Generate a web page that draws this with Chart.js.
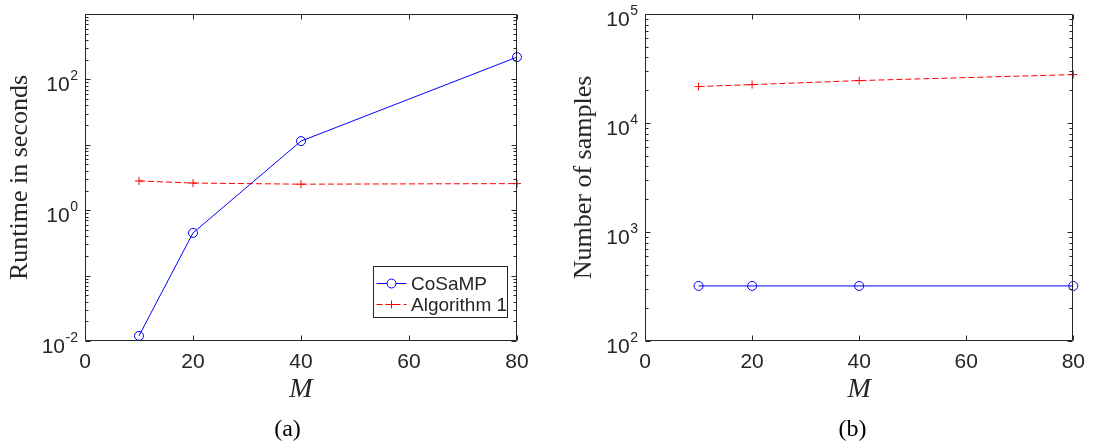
<!DOCTYPE html>
<html><head><meta charset="utf-8">
<script src="https://cdn.jsdelivr.net/npm/chart.js@4/dist/chart.umd.min.js"></script>
<style>
html,body{margin:0;padding:0;background:#fff;overflow:hidden;}
#wrap{position:relative;width:1094px;height:445px;}
.c{position:absolute;top:0;width:547px;height:445px;}
</style></head><body>
<div id="wrap">
<div class="c" style="left:0"><canvas id="ca"></canvas></div>
<div class="c" style="left:547px"><canvas id="cb"></canvas></div>
</div>
<script>
// ---- data ----
const mValues = [10, 20, 40, 80];
const cosampRuntime = [0.012, 0.45, 11.4, 219];
const alg1Runtime = [2.8, 2.6, 2.5, 2.55];
const cosampSamples = [320, 320, 320, 320];
const alg1Samples = [21600, 22500, 24500, 27800];
const seriesNames = ['CoSaMP', 'Algorithm 1'];
const xTicks = [0, 20, 40, 60, 80];
const runtimeExponents = [-2, 0, 2];
const samplesExponents = [2, 3, 4, 5];
const captions = ['(a)', '(b)'];
const yTitles = ['Runtime in seconds', 'Number of samples'];
const xTitle = 'M';

const AX = '#262626';
const SANS = '"Liberation Sans", Arial, sans-serif';
const SERIF = '"Liberation Serif", "Times New Roman", serif';
Chart.defaults.font.family = SANS;
Chart.defaults.color = AX;

const pts = ys => mValues.map((m, i) => ({x: m, y: ys[i]}));

function datasets(blueVals, redVals) {
  return [
    {label: seriesNames[0], data: pts(blueVals), borderColor: '#0000ff', borderWidth: 1,
     pointStyle: 'circle', pointRadius: 4.5, pointBorderWidth: 1, pointBorderColor: '#0000ff',
     pointBackgroundColor: 'rgba(0,0,0,0)', tension: 0, clip: false},
    {label: seriesNames[1], data: pts(redVals), borderColor: '#ff0000', borderWidth: 1, borderDash: [6, 3],
     pointStyle: 'cross', pointRadius: 4, pointBorderWidth: 1, pointBorderColor: '#ff0000',
     pointBackgroundColor: '#ff0000', tension: 0, clip: false}
  ];
}

const matlabAxes = {
  id: 'matlabAxes',
  afterDraw(chart, args, opts) {
    const ctx = chart.ctx, a = chart.chartArea;
    const xs = chart.scales.x, ys = chart.scales.y;
    const L = Math.round(a.left) + 0.5, R = Math.round(a.right) - 0.5;
    const T = Math.round(a.top) + 0.5, B = Math.round(a.bottom) - 0.5;
    ctx.save();
    ctx.strokeStyle = AX; ctx.lineWidth = 1;
    ctx.beginPath();
    ctx.rect(L, T, R - L, B - T);
    xs.ticks.forEach(t => {
      const px = Math.round(xs.getPixelForValue(t.value)) + 0.5;
      ctx.moveTo(px, B); ctx.lineTo(px, B - 5);
      ctx.moveTo(px, T); ctx.lineTo(px, T + 5);
    });
    const lo = Math.floor(Math.log10(ys.min) + 1e-9), hi = Math.ceil(Math.log10(ys.max) - 1e-9);
    for (let e = lo; e <= hi; e++) for (let m = 1; m <= 9; m++) {
      const v = m * Math.pow(10, e);
      if (v < ys.min * 0.999 || v > ys.max * 1.001) continue;
      const len = m === 1 ? 5 : 3;
      const py = Math.round(ys.getPixelForValue(v)) + 0.5;
      ctx.moveTo(L, py); ctx.lineTo(L + len, py);
      ctx.moveTo(R, py); ctx.lineTo(R - len, py);
    }
    ctx.stroke();
    // y tick labels 10^k
    ctx.fillStyle = AX;
    ctx.textAlign = 'right'; ctx.textBaseline = 'alphabetic';
    opts.exps.forEach(e => {
      const py = ys.getPixelForValue(Math.pow(10, e));
      const es = String(e);
      ctx.font = '14px ' + SANS;
      const ew = ctx.measureText(es).width;
      ctx.fillText(es, a.left - 7, py + 1);
      ctx.font = '21px ' + SANS;
      ctx.fillText('10', a.left - 7 - ew - 0.5, py + 11.5);
    });
    // caption
    ctx.fillStyle = '#000';
    ctx.font = '24px ' + SERIF;
    ctx.textAlign = 'center'; ctx.textBaseline = 'middle';
    ctx.fillText(opts.caption, opts.captionX, 430);
    // legend
    if (opts.legend) {
      const w = 134, h = 51;
      const bx = a.right - 10 - w, by = a.bottom - 24 - h;
      ctx.fillStyle = '#fff';
      ctx.fillRect(bx, by, w, h);
      ctx.strokeStyle = AX; ctx.lineWidth = 1;
      ctx.strokeRect(Math.round(bx) + 0.5, Math.round(by) + 0.5, w, h);
      chart.data.datasets.forEach((ds, i) => {
        const yy = Math.round(by + 16.5 + i * 21) + 0.5;
        ctx.strokeStyle = ds.borderColor; ctx.lineWidth = ds.borderWidth;
        ctx.setLineDash(ds.borderDash || []);
        ctx.beginPath(); ctx.moveTo(bx + 3.5, yy); ctx.lineTo(bx + 33.5, yy); ctx.stroke();
        ctx.setLineDash([]);
        Chart.helpers.drawPoint(ctx, {pointStyle: ds.pointStyle, radius: ds.pointRadius, borderWidth: ds.pointBorderWidth, rotation: 0}, bx + 18.5, yy);
        ctx.fillStyle = AX; ctx.font = '19px ' + SANS;
        ctx.textAlign = 'left'; ctx.textBaseline = 'middle';
        ctx.fillText(ds.label, bx + 38, yy + 1);
      });
    }
    ctx.restore();
  }
};

function makeChart(id, ds, yMin, yMax, yTitle, yWidth, yTitlePad, rightPad, exps, caption, captionX, legend) {
  return new Chart(document.getElementById(id), {
    type: 'line',
    data: {datasets: ds},
    plugins: [matlabAxes],
    options: {
      responsive: true, maintainAspectRatio: false, animation: false,
      layout: {padding: {top: 14, right: rightPad, bottom: 0, left: 0}},
      plugins: {
        legend: {display: false}, tooltip: {enabled: false},
        matlabAxes: {exps: exps, caption: caption, captionX: captionX, legend: legend}
      },
      scales: {
        x: {
          type: 'linear', min: 0, max: 80,
          afterBuildTicks: s => { s.ticks = xTicks.map(v => ({value: v})); },
          afterFit: s => { s.height = 104; },
          grid: {display: false, drawTicks: false}, border: {display: false},
          ticks: {font: {size: 21, family: SANS}, color: AX, padding: 9, maxRotation: 0, autoSkip: false},
          title: {display: true, text: xTitle, color: AX, font: {family: SERIF, size: 28, style: 'italic'}, padding: {top: 0, bottom: 39}}
        },
        y: {
          type: 'logarithmic', min: yMin, max: yMax,
          afterFit: s => { s.width = yWidth; },
          grid: {display: false, drawTicks: false}, border: {display: false},
          ticks: {display: false},
          title: {display: true, text: yTitle, color: AX, font: {family: SERIF, size: 26}, padding: {top: yTitlePad, bottom: yTitlePad}}
        }
      }
    }
  });
}

makeChart('ca', datasets(cosampRuntime, alg1Runtime), 0.01, 1000, yTitles[0], 85, 5, 30, runtimeExponents, captions[0], 287.5, true);
makeChart('cb', datasets(cosampSamples, alg1Samples), 100, 100000, yTitles[1], 98, 21.5, 13, samplesExponents, captions[1], 305.5, false);
</script>
</body></html>
